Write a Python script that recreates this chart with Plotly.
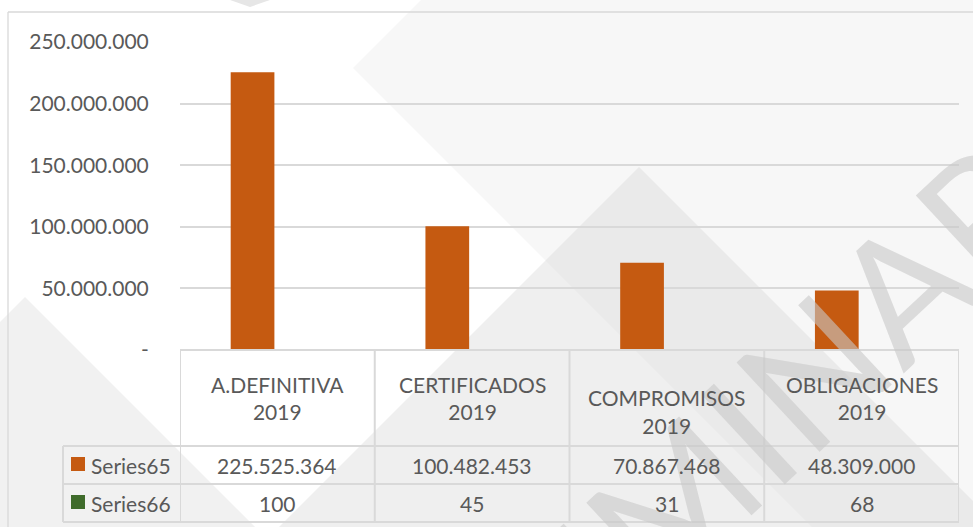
import plotly.graph_objects as go

# datos del gráfico
categorias = ["A.DEFINITIVA<br>2019", "CERTIFICADOS<br>2019",
              "&nbsp;<br>COMPROMISOS<br>2019", "OBLIGACIONES<br>2019"]
series_nombres = ["Series65", "Series66"]
serie65 = [225525364, 100482453, 70867468, 48309000]
serie66 = [100, 45, 31, 68]
y_ticks = [0, 50000000, 100000000, 150000000, 200000000, 250000000]

W, H = 973, 527
L, R, T, B = 180, 14, 42, 177
GRIS = "#595959"
LINEA = "#D9D9D9"
FUENTE = "Lato"
colores = ["#C55A11", "#3F6B2B"]


def fmt(v):
    if v == 0:
        return "-"
    return f"{v:,}".replace(",", ".")


def px(x):
    return (x - L) / (W - L - R)


def py(y):
    return (H - B - y) / (H - T - B)


x_idx = list(range(len(categorias)))

fig = go.Figure()
fig.add_trace(go.Bar(x=x_idx, y=serie65, name=series_nombres[0],
                     marker=dict(color=colores[0], line=dict(width=0))))
fig.add_trace(go.Bar(x=x_idx, y=serie66, name=series_nombres[1],
                     marker=dict(color=colores[1], line=dict(width=0))))

shapes = []

# marca de agua (fondo)
def poly(pts, color):
    path = "M " + " L ".join(f"{px(a):.4f},{py(b):.4f}" for a, b in pts) + " Z"
    return dict(type="path", path=path, xref="paper", yref="paper",
                fillcolor=color, line=dict(width=0), layer="below")

shapes.append(poly([(353, 68), (421, 0), (973, 0), (973, 527), (812, 527)], "#F7F7F7"))
shapes.append(poly([(639, 167), (1000, 528), (278, 528)], "rgba(210,210,210,0.35)"))
shapes.append(poly([(25, 297), (256, 528), (-206, 528)], "rgba(220,220,220,0.4)"))
shapes.append(poly([(230, 0), (270, 0), (250, 7)], "#E6E6E6"))

# marco del gráfico
shapes.append(dict(type="line", xref="paper", yref="paper",
                   x0=px(8), x1=px(975), y0=py(12), y1=py(12),
                   line=dict(color=LINEA, width=1.3)))
shapes.append(dict(type="line", xref="paper", yref="paper",
                   x0=px(8), x1=px(8), y0=py(12), y1=py(529),
                   line=dict(color=LINEA, width=1.3)))

# tabla de datos
for yy, x0 in [(350, 180), (446, 63), (484, 63), (522, 63)]:
    shapes.append(dict(type="line", xref="paper", yref="paper",
                       x0=px(x0), x1=1, y0=py(yy), y1=py(yy),
                       line=dict(color=LINEA, width=2)))
for i in range(len(categorias) + 1):
    shapes.append(dict(type="line", xref="x", yref="paper",
                       x0=i - 0.5, x1=i - 0.5, y0=py(350), y1=py(522),
                       line=dict(color=LINEA, width=2)))
shapes.append(dict(type="line", xref="paper", yref="paper",
                   x0=px(63), x1=px(63), y0=py(446), y1=py(522),
                   line=dict(color=LINEA, width=2)))

annotations = [dict(text="PRELIMINAR", xref="paper", yref="paper",
                    x=px(655), y=py(515), xanchor="center", yanchor="middle",
                    showarrow=False, textangle=-43,
                    font=dict(family=FUENTE, size=170, color="rgba(200,200,200,0.6)"))]

filas = [(serie65, 465), (serie66, 503)]
for k, (vals, yy) in enumerate(filas):
    shapes.append(dict(type="rect", xref="paper", yref="paper",
                       x0=px(71), x1=px(85), y0=py(457 + 38 * k), y1=py(471 + 38 * k),
                       fillcolor=colores[k], line=dict(width=0)))
    annotations.append(dict(text=series_nombres[k], xref="paper", yref="paper",
                            x=px(89), y=py(yy), xanchor="left", yanchor="middle",
                            showarrow=False, font=dict(family=FUENTE, size=21, color=GRIS)))
    for i, v in enumerate(vals):
        annotations.append(dict(text=fmt(v), xref="x", yref="paper", x=i, y=py(yy),
                                xanchor="center", yanchor="middle", showarrow=False,
                                font=dict(family=FUENTE, size=21, color=GRIS)))

for i, c in enumerate(categorias):
    annotations.append(dict(text=c, xref="x", yref="paper", x=i, y=py(398),
                            xanchor="center", yanchor="middle", showarrow=False,
                            font=dict(family=FUENTE, size=21, color=GRIS)))

fig.update_layout(
    width=W, height=H,
    margin=dict(l=L, r=R, t=T, b=B, pad=0),
    paper_bgcolor="white", plot_bgcolor="rgba(0,0,0,0)",
    barmode="group", bargap=0.49, bargroupgap=0.12,
    showlegend=False,
    font=dict(family=FUENTE, size=21, color=GRIS),
    xaxis=dict(range=[-0.5, len(categorias) - 0.5], showticklabels=False,
               showgrid=False, zeroline=False, showline=False, ticks=""),
    yaxis=dict(range=[0, 250000000], tickvals=y_ticks, ticktext=[fmt(v) for v in y_ticks],
               showgrid=True, gridcolor=LINEA, gridwidth=1.5, zeroline=False,
               showline=False, ticks="outside", ticklen=26, tickcolor="rgba(0,0,0,0)",
               tickfont=dict(family=FUENTE, size=21, color=GRIS)),
    shapes=shapes,
    annotations=annotations,
)

fig.write_html("out.html", config={"displayModeBar": False},
               post_script="document.body.style.margin='0';")
